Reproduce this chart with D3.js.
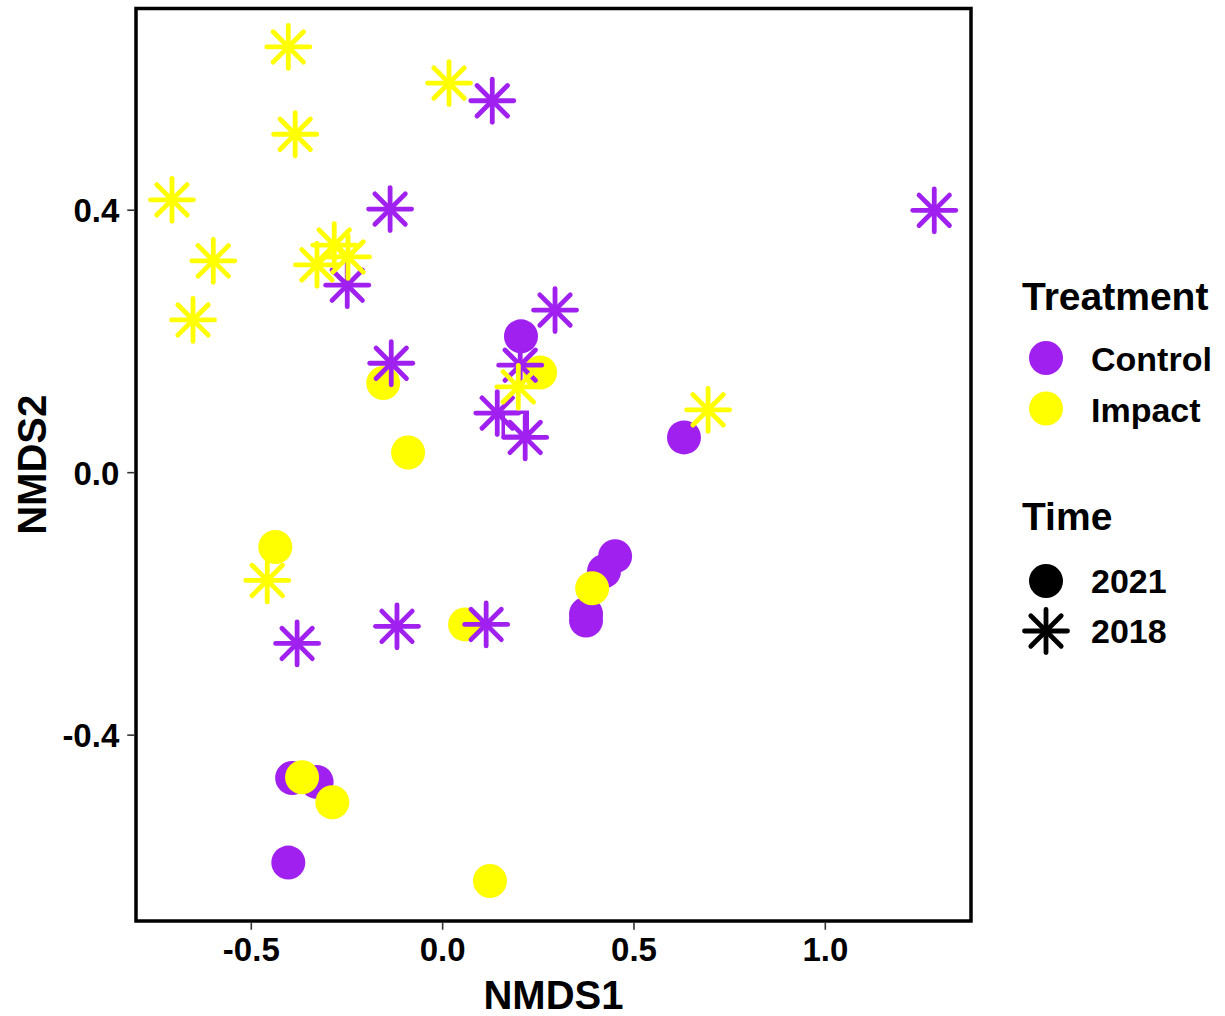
<!DOCTYPE html>
<html><head><meta charset="utf-8">
<script src="https://cdn.jsdelivr.net/npm/d3@7"></script>
<style>body{margin:0;background:#fff}svg{display:block}text{font-family:"Liberation Sans",Arial,sans-serif;font-weight:bold}</style>
</head><body><svg id="c" width="1225" height="1016"></svg>
<script>
// ---- data (NMDS1, NMDS2) ----
const treatments = ["Control", "Impact"];
const times = ["2021", "2018"];
const xTicks = [-0.5, 0.0, 0.5, 1.0];
const yTicks = [-0.4, 0.0, 0.4];

const control2021 = [[0.206,0.207],[0.632,0.053],[0.452,-0.128],[0.423,-0.151],[0.376,-0.216],[0.376,-0.226],
  [-0.392,-0.466],[-0.328,-0.472],[-0.402,-0.595]];
const impact2021 = [[-0.154,0.136],[-0.089,0.030],[0.256,0.152],[-0.436,-0.114],[0.060,-0.232],[0.392,-0.177],
  [-0.366,-0.465],[-0.287,-0.503],[0.125,-0.623]];
const control2018 = [[0.131,0.566],[-0.136,0.401],[-0.248,0.285],[0.295,0.247],[-0.133,0.166],[0.204,0.163],
  [0.144,0.090],[0.217,0.053],[1.286,0.399],[-0.379,-0.261],[-0.118,-0.235],[0.115,-0.232]];
const impact2018 = [[-0.402,0.648],[0.018,0.593],[-0.384,0.515],[-0.706,0.415],[-0.598,0.322],[-0.651,0.232],
  [-0.282,0.346],[-0.246,0.328],[-0.327,0.316],[-0.457,-0.165],[0.199,0.130],[0.695,0.095]];
const controlSquare = [[0.191,0.073]];

const colors = {Control: "#A020F0", Impact: "#FFFF00"};

// ---- layout ----
const svg = d3.select("#c");
const L = 136, R = 971, T = 8.5, B = 921;
const x = d3.scaleLinear().domain([-0.8, 1.382]).range([L, R]);
const y = d3.scaleLinear().domain([-0.684, 0.7066]).range([B, T]);
const fmt = v => d3.format(".1f")(v).replace("\u2212", "-");

const g = svg.append("g");

function asterisk(sel, cx, cy, col, r) {
  const a = sel.append("g").attr("transform", `translate(${cx},${cy})`);
  const d = r / Math.SQRT2;
  [[-r,0,r,0],[0,-r,0,r],[-d,-d,d,d],[-d,d,d,-d]].forEach(s => {
    a.append("line").attr("x1",s[0]).attr("y1",s[1]).attr("x2",s[2]).attr("y2",s[3])
      .attr("stroke", col).attr("stroke-width", 4.8).attr("stroke-linecap","round");
  });
}

const pts = g.append("g");
// circles (2021)
control2021.forEach(p => pts.append("circle").attr("cx", x(p[0])).attr("cy", y(p[1])).attr("r", 17).attr("fill", colors.Control));
impact2021.forEach(p => pts.append("circle").attr("cx", x(p[0])).attr("cy", y(p[1])).attr("r", 17).attr("fill", colors.Impact));
controlSquare.forEach(p => pts.append("rect").attr("x", x(p[0]) - 12).attr("y", y(p[1]) - 12).attr("width", 24).attr("height", 24)
  .attr("fill","none").attr("stroke", colors.Control).attr("stroke-width", 3.5));
// asterisks (2018)
control2018.forEach(p => asterisk(pts, x(p[0]), y(p[1]), colors.Control, 21.5));
impact2018.forEach(p => asterisk(pts, x(p[0]), y(p[1]), colors.Impact, 21.5));

// border
svg.append("rect").attr("x", L).attr("y", T).attr("width", R - L).attr("height", B - T)
  .attr("fill", "none").attr("stroke", "#000").attr("stroke-width", 3.5);

// axes
const xa = svg.append("g").attr("transform", `translate(0,${B + 1.75})`)
  .call(d3.axisBottom(x).tickValues(xTicks).tickFormat(fmt).tickSize(7).tickPadding(8));
const ya = svg.append("g").attr("transform", `translate(${L - 1.75},0)`)
  .call(d3.axisLeft(y).tickValues(yTicks).tickFormat(fmt).tickSize(7).tickPadding(8));
[xa, ya].forEach(a => {
  a.select(".domain").remove();
  a.selectAll(".tick line").attr("stroke", "#333").attr("stroke-width", 1.6);
  a.selectAll(".tick text").attr("fill", "#000").style("font-size", "33px").style("font-family", '"Liberation Sans",Arial,sans-serif').style("font-weight","bold");
});
xa.selectAll(".tick text").attr("dy", "0.71em");
ya.selectAll(".tick text").attr("dy", "0.36em");

svg.append("text").attr("x", (L + R) / 2).attr("y", 1009).attr("text-anchor", "middle")
  .style("font-size", "40px").text("NMDS1");
svg.append("text").attr("transform", `translate(46,${(T + B) / 2}) rotate(-90)`).attr("text-anchor", "middle")
  .style("font-size", "40px").text("NMDS2");

// legend
const lg = svg.append("g");
lg.append("text").attr("x", 1022).attr("y", 310).style("font-size", "39px").text("Treatment");
treatments.forEach((t, i) => {
  const cy = 358 + i * 50.5;
  lg.append("circle").attr("cx", 1046).attr("cy", cy).attr("r", 17).attr("fill", colors[t]);
  lg.append("text").attr("x", 1091).attr("y", cy + 13).style("font-size", "34px").text(t);
});
lg.append("text").attr("x", 1022).attr("y", 530).style("font-size", "39px").text("Time");
times.forEach((t, i) => {
  const cy = 581 + i * 50;
  if (t === "2021") lg.append("circle").attr("cx", 1046).attr("cy", cy).attr("r", 17).attr("fill", "#000");
  else asterisk(lg, 1046, cy, "#000", 21.5);
  lg.append("text").attr("x", 1091).attr("y", cy + 12).style("font-size", "34px").text(t);
});
</script></body></html>
